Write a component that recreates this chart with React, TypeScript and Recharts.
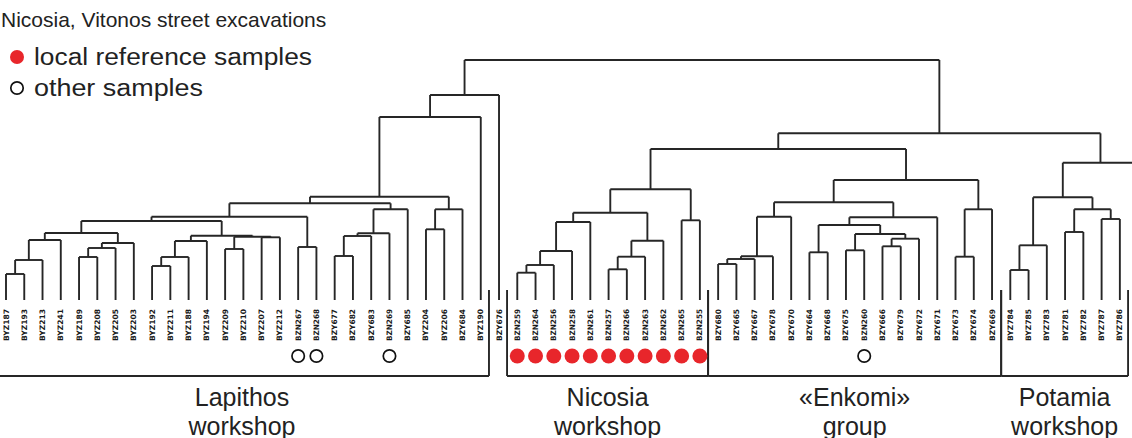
import { ComposedChart, ReferenceLine, Scatter, XAxis, YAxis } from "recharts";

// leaf order, left to right (last one is cut off by the right edge of the figure)
const leaves = [
  "BYZ187", "BYZ193", "BYZ213", "BYZ241", "BYZ189", "BYZ208", "BYZ205", "BYZ203",
  "BYZ192", "BYZ211", "BYZ188", "BYZ194", "BYZ209", "BYZ210", "BYZ207", "BYZ212",
  "BZN267", "BZN268", "BZY677", "BZY682", "BZY683", "BZN269", "BZY685", "BYZ204",
  "BYZ206", "BZY684", "BYZ190", "BZY676",
  "BZN259", "BZN264", "BZN256", "BZN258", "BZN261", "BZN257", "BZN266", "BZN263",
  "BZN262", "BZN265", "BZN255",
  "BZY680", "BZY665", "BZY667", "BZY678", "BZY670", "BZY664", "BZY668", "BZY675",
  "BZN260", "BZY666", "BZY679", "BZY672", "BZY671", "BZY673", "BZY674", "BZY669",
  "BYZ784", "BYZ785", "BYZ783", "BYZ781", "BYZ782", "BYZ787", "BYZ786",
  "",
];

const localSamples = [
  "BZN259", "BZN264", "BZN256", "BZN258", "BZN261", "BZN257", "BZN266", "BZN263",
  "BZN262", "BZN265", "BZN255",
];
const otherSamples = ["BZN267", "BZN268", "BZN269", "BZN260"];

// [node, left, right, linkage height]
const merges: [string, string, string, number][] = [
  ["n1", "BYZ187", "BYZ193", 2.6],
  ["n2", "n1", "BYZ213", 4.0],
  ["n3", "n2", "BYZ241", 6.0],
  ["n4", "BYZ189", "BYZ208", 4.3],
  ["n5", "n4", "BYZ205", 5.2],
  ["n6", "n5", "BYZ203", 5.7],
  ["n7", "n3", "n6", 6.7],
  ["n8", "BYZ192", "BYZ211", 3.4],
  ["n9", "n8", "BYZ188", 4.3],
  ["n10", "n9", "BYZ194", 5.9],
  ["n11", "BYZ209", "BYZ210", 5.1],
  ["n12", "BYZ207", "BYZ212", 6.27],
  ["n13", "n11", "n12", 6.33],
  ["n14", "n10", "n13", 6.43],
  ["n15", "n7", "n14", 7.9],
  ["n16", "BZN267", "BZN268", 5.3],
  ["n17", "n15", "n16", 8.33],
  ["n18", "BZY677", "BZY682", 4.4],
  ["n19", "n18", "BZY683", 6.4],
  ["n20", "n19", "BZN269", 6.67],
  ["n21", "n20", "BZY685", 9.07],
  ["n22", "n17", "n21", 9.67],
  ["n23", "BYZ204", "BYZ206", 7.07],
  ["n24", "n23", "BZY684", 9.07],
  ["n25", "n22", "n24", 10.33],
  ["n26", "n25", "BYZ190", 18.3],
  ["n27", "n26", "BZY676", 20.5],
  ["m1", "BZN259", "BZN264", 2.73],
  ["m2", "m1", "BZN256", 3.5],
  ["m3", "m2", "BZN258", 4.9],
  ["m4", "m3", "BZN261", 7.8],
  ["m5", "BZN257", "BZN266", 3.07],
  ["m6", "m5", "BZN263", 4.33],
  ["m7", "m6", "BZN262", 5.93],
  ["m8", "m4", "m7", 8.73],
  ["m9", "BZN265", "BZN255", 7.97],
  ["m10", "m8", "m9", 11.07],
  ["e1", "BZY680", "BZY665", 3.6],
  ["e2", "e1", "BZY667", 4.1],
  ["e3", "e2", "BZY678", 4.37],
  ["e4", "e3", "BZY670", 8.33],
  ["e5", "BZY664", "BZY668", 4.77],
  ["e6", "BZY675", "BZN260", 4.97],
  ["e7", "BZY666", "BZY679", 5.37],
  ["e8", "e7", "BZY672", 6.13],
  ["e9", "e6", "e8", 6.6],
  ["e10", "e5", "e9", 7.5],
  ["e11", "e10", "BZY671", 8.27],
  ["e12", "e4", "e11", 9.77],
  ["e13", "BZY673", "BZY674", 4.33],
  ["e14", "e13", "BZY669", 9.07],
  ["e15", "e12", "e14", 12.0],
  ["c1", "m10", "e15", 15.1],
  ["p1", "BYZ784", "BYZ785", 3.0],
  ["p2", "p1", "BYZ783", 5.47],
  ["p3", "BYZ781", "BYZ782", 6.8],
  ["p4", "BYZ787", "BYZ786", 8.1],
  ["p5", "p3", "p4", 9.07],
  ["p6", "p2", "p5", 10.27],
  ["p7", "p6", "", 13.73],
  ["c2", "c1", "p7", 16.67],
  ["root", "n27", "c2", 24.0],
];

const groupNames = ["Lapithos", "Nicosia", "«Enkomi»", "Potamia"];
const groupSubtitles = ["workshop", "workshop", "group", "workshop"];
const groupBounds: [number, number][] = [
  [-0.6, 26.45],
  [27.44, 38.45],
  [38.45, 54.5],
  [54.5, 61.45],
];

const W = 1132;
const H = 438;
const LINE = "#262626";
const FONT = "Liberation Sans, Arial, sans-serif";
const LABEL_Y = -0.9;
const MARK_Y = -5.6;
const BRACKET_TOP = 1.0;
const BRACKET_Y = -7.6;

const pos: Record<string, { x: number; h: number }> = {};
leaves.forEach((name, i) => {
  pos[name] = { x: i, h: 0 };
});
merges.forEach(([id, a, b, h]) => {
  pos[id] = { x: (pos[a].x + pos[b].x) / 2, h };
});

const labelData = leaves.filter((n) => n).map((name) => ({ x: pos[name].x, y: LABEL_Y, name }));
const localData = localSamples.map((name) => ({ x: pos[name].x, y: MARK_Y }));
const otherData = otherSamples.map((name) => ({ x: pos[name].x, y: MARK_Y }));
const groupData = groupNames.map((name, i) => ({
  x: (groupBounds[i][0] + groupBounds[i][1]) / 2,
  y: BRACKET_Y,
  name,
  sub: groupSubtitles[i],
}));

const LeafLabel = (props: any) => {
  const { cx, cy, payload } = props;
  return (
    <text
      x={cx}
      y={cy}
      transform={`rotate(-90 ${cx} ${cy})`}
      textAnchor="end"
      dominantBaseline="central"
      fontFamily="DejaVu Sans"
      fontWeight="bold"
      fontSize={7.5}
      textLength={32}
      lengthAdjust="spacingAndGlyphs"
      fill="#1a1a1a"
    >
      {payload.name}
    </text>
  );
};

const GroupLabel = (props: any) => {
  const { cx, cy, payload } = props;
  return (
    <text textAnchor="middle" fontFamily={FONT} fontSize={25} fill="#222">
      <tspan x={cx} y={cy + 30}>{payload.name}</tspan>
      <tspan x={cx} y={cy + 59}>{payload.sub}</tspan>
    </text>
  );
};

export default function App() {
  const segs: { x: number; y: number }[][] = [];
  merges.forEach(([id, a, b]) => {
    const n = pos[id];
    const l = pos[a];
    const r = pos[b];
    segs.push([{ x: l.x, y: l.h }, { x: l.x, y: n.h }]);
    segs.push([{ x: l.x, y: n.h }, { x: r.x, y: n.h }]);
    segs.push([{ x: r.x, y: r.h }, { x: r.x, y: n.h }]);
  });
  groupBounds.forEach(([from, to]) => {
    segs.push([{ x: from, y: BRACKET_Y }, { x: to, y: BRACKET_Y }]);
    segs.push([{ x: from, y: BRACKET_TOP }, { x: from, y: BRACKET_Y }]);
    segs.push([{ x: to, y: BRACKET_TOP }, { x: to, y: BRACKET_Y }]);
  });

  return (
    <div style={{ position: "relative", width: W, height: H, background: "#fff", overflow: "hidden" }}>
      <style>{`body{margin:0}`}</style>
      <ComposedChart width={W} height={H} margin={{ top: 0, right: 0, bottom: 0, left: 0 }}>
        <XAxis type="number" dataKey="x" hide domain={[-6 / 18.26, (W - 6) / 18.26]} allowDataOverflow />
        <YAxis type="number" dataKey="y" hide domain={[-13.8, 30]} allowDataOverflow />
        {segs.map((s, i) => (
          <ReferenceLine key={i} segment={s} stroke={LINE} strokeWidth={1.9} ifOverflow="visible" />
        ))}
        <Scatter data={labelData} shape={LeafLabel} isAnimationActive={false} />
        <Scatter
          data={localData}
          isAnimationActive={false}
          shape={(p: any) => <circle cx={p.cx} cy={p.cy} r={7.5} fill="#e8262b" />}
        />
        <Scatter
          data={otherData}
          isAnimationActive={false}
          shape={(p: any) => <circle cx={p.cx} cy={p.cy} r={6.2} fill="none" stroke="#111" strokeWidth={1.7} />}
        />
        <Scatter data={groupData} shape={GroupLabel} isAnimationActive={false} />
      </ComposedChart>
      <svg width={W} height={110} style={{ position: "absolute", left: 0, top: 0 }}>
        <g fontFamily={FONT} fill="#222">
          <text x={1} y={27} fontSize={21}>Nicosia, Vitonos street excavations</text>
          <circle cx={17} cy={57} r={7} fill="#e8262b" />
          <text x={34} y={65} fontSize={23} textLength={278} lengthAdjust="spacingAndGlyphs">
            local reference samples
          </text>
          <circle cx={17} cy={88} r={6.2} fill="none" stroke="#111" strokeWidth={1.7} />
          <text x={34} y={96} fontSize={23} textLength={169} lengthAdjust="spacingAndGlyphs">
            other samples
          </text>
        </g>
      </svg>
    </div>
  );
}
